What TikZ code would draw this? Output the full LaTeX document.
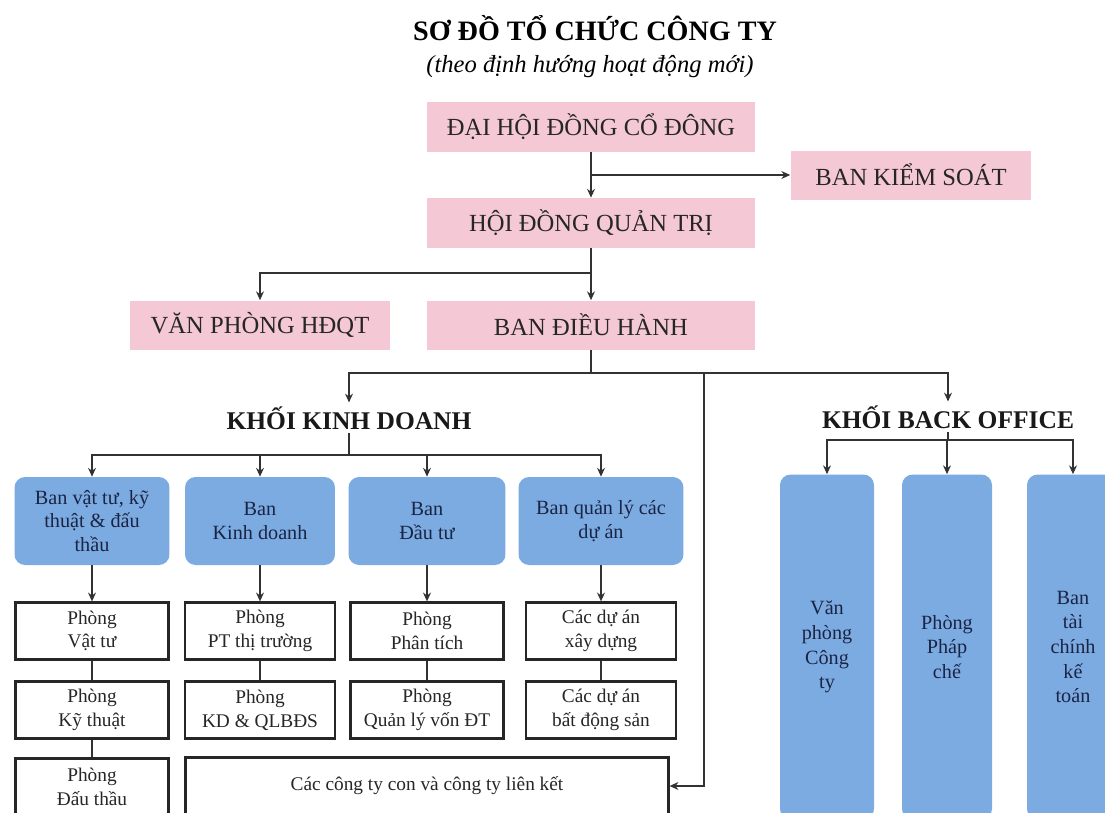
\documentclass[tikz,border=0pt]{standalone}
\usepackage{fontspec}
\setmainfont{Liberation Serif}
\usetikzlibrary{arrows.meta}

\definecolor{boardpink}{RGB}{244,200,212}
\definecolor{unitblue}{RGB}{124,171,226}
\definecolor{inkblue}{RGB}{26,36,68}
\definecolor{linegray}{RGB}{50,50,50}

\begin{document}
\begin{tikzpicture}[x=0.02cm,y=-0.02cm]
          \tikzset{BoardStyle/.style = {
              fill = boardpink,
              text = black!85,
              font = \fontsize{14}{16}\selectfont,
              minimum height = 1cm,
              inner sep = 0pt},
            HeadStyle/.style = {
              font = \bfseries\fontsize{14.5}{17}\selectfont,
              text = black!90,
              inner sep = 2pt},
            UnitStyle/.style = {
              fill = unitblue,
              text = inkblue,
              rounded corners = 6pt,
              align = center,
              font = \fontsize{11.5}{13.5}\selectfont,
              minimum height = 1.76cm,
              inner sep = 0pt},
            RoomStyle/.style = {
              draw = black!85,
              line width = 1.3pt,
              fill = white,
              text = black!85,
              align = center,
              font = \fontsize{11}{13.5}\selectfont,
              minimum height = 1.14cm,
              inner sep = 0pt},
            OfficeStyle/.style = {
              fill = unitblue,
              text = inkblue,
              rounded corners = 6pt,
              align = center,
              font = \fontsize{11.5}{14}\selectfont,
              minimum height = 6.9cm,
              inner sep = 0pt},
            LinkStyle/.style = {
              draw = linegray,
              line width = 1pt,
              >={Stealth[length=5pt,width=4.5pt]}}}
          \useasboundingbox (0,0) rectangle (1105,812);
          \clip (0,0) rectangle (1105,812);
          % title
          \node[anchor=base, font=\bfseries\fontsize{16}{19}\selectfont] (title) at (595,40) {SƠ ĐỒ TỔ CHỨC CÔNG TY};
          \node[anchor=base, font=\itshape\fontsize{14}{17}\selectfont] (subtitle) at (590,72) {(theo định hướng hoạt động mới)};
          % board level
          \node[BoardStyle, minimum width=6.56cm] (dhcd) at (591,127) {ĐẠI HỘI ĐỒNG CỔ ĐÔNG};
          \node[BoardStyle, minimum width=4.82cm, minimum height=0.98cm] (bks) at (911,175) {BAN KIỂM SOÁT};
          \node[BoardStyle, minimum width=6.56cm] (hdqt) at (591,223) {HỘI ĐỒNG QUẢN TRỊ};
          \node[BoardStyle, minimum width=5.2cm, minimum height=0.98cm] (vphd) at (260,325) {VĂN PHÒNG HĐQT};
          \node[BoardStyle, minimum width=6.56cm, minimum height=0.98cm] (bdh) at (591,325) {BAN ĐIỀU HÀNH};
          \node[HeadStyle, anchor=base] (kkd) at (349,429) {KHỐI KINH DOANH};
          \node[HeadStyle, anchor=base] (kbo) at (948,428) {KHỐI BACK OFFICE};
          % khoi kinh doanh
          \node[UnitStyle, minimum width=3.1cm] (bvt) at (92,521) {Ban vật tư, kỹ\\thuật \& đấu\\thầu};
          \node[UnitStyle, minimum width=3cm] (bkd) at (260,521) {Ban\\Kinh doanh};
          \node[UnitStyle, minimum width=3.14cm] (bdt) at (427,521) {Ban\\Đầu tư};
          \node[UnitStyle, minimum width=3.3cm] (bql) at (601,521) {Ban quản lý các\\dự án};
          \node[RoomStyle, minimum width=3.06cm] (pvt) at (92,631) {Phòng\\Vật tư};
          \node[RoomStyle, minimum width=3cm] (pttt) at (260,631) {Phòng\\PT thị trường};
          \node[RoomStyle, minimum width=3.06cm] (ppt) at (427,631) {Phòng\\Phân tích};
          \node[RoomStyle, minimum width=3cm] (dxd) at (601,631) {Các dự án\\xây dựng};
          \node[RoomStyle, minimum width=3.06cm] (pkt) at (92,710) {Phòng\\Kỹ thuật};
          \node[RoomStyle, minimum width=3cm] (pkd) at (260,710) {Phòng\\KD \& QLBĐS};
          \node[RoomStyle, minimum width=3.06cm] (pqlv) at (427,710) {Phòng\\Quản lý vốn ĐT};
          \node[RoomStyle, minimum width=3cm] (dbds) at (601,710) {Các dự án\\bất động sản};
          \node[RoomStyle, minimum width=3.06cm] (pdt) at (92,787) {Phòng\\Đấu thầu};
          \node[RoomStyle, minimum width=9.66cm] (ctcon) at (427,786) {Các công ty con và công ty liên kết};
          % khoi back office
          \node[OfficeStyle, minimum width=1.88cm] (vpct) at (827,647) {Văn\\phòng\\Công\\ty};
          \node[OfficeStyle, minimum width=1.8cm] (ppc) at (947,647) {Phòng\\Pháp\\chế};
          \node[OfficeStyle, minimum width=1.84cm] (btc) at (1073,647) {Ban\\tài\\chính\\kế\\toán};
          % connectors
          \coordinate (hqsplit) at (591,273);
          \coordinate (bdsplit) at (591,373);
          \coordinate (ctsplit) at (704,373);
          \coordinate (kdsplit) at (349,455);
          \coordinate (bosplit) at (948,440);
          \draw[LinkStyle,->] (dhcd) -- (hdqt);
          \draw[LinkStyle,->] (dhcd.south |- bks) -- (bks);
          \draw[LinkStyle,->] (hdqt) -- (bdh);
          \draw[LinkStyle,->] (hqsplit) -| (vphd);
          \draw[LinkStyle] (bdh) -- (bdsplit);
          \draw[LinkStyle,->] (bdsplit) -| (kkd);
          \draw[LinkStyle,->] (bdsplit) -| (kbo);
          \draw[LinkStyle,->] (ctsplit) |- (ctcon);
          \draw[LinkStyle] (kkd) -- (kdsplit);
          \foreach \u in {bvt,bkd,bdt,bql}{\draw[LinkStyle,->] (kdsplit) -| (\u);}
          \foreach \u/\r in {bvt/pvt,bkd/pttt,bdt/ppt,bql/dxd}{\draw[LinkStyle,->] (\u) -- (\r);}
          \foreach \r/\s in {pvt/pkt,pttt/pkd,ppt/pqlv,dxd/dbds,pkt/pdt}{\draw[LinkStyle] (\r) -- (\s);}
          \draw[LinkStyle] (kbo) -- (bosplit);
          \foreach \o in {vpct,ppc,btc}{\draw[LinkStyle,->] (bosplit) -| (\o);}
        \end{tikzpicture}
\end{document}
